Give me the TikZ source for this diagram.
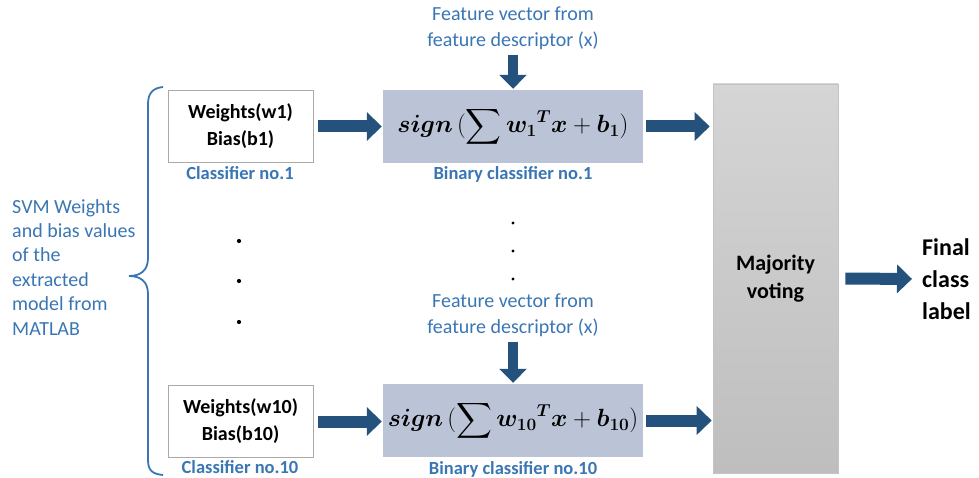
\documentclass[tikz,border=0pt]{standalone}
\usepackage[no-math]{fontspec}
\setmainfont{Carlito}
\usepackage{amsmath,bm}
\usetikzlibrary{arrows.meta}
\definecolor{txtblue}{RGB}{58,118,180}
\definecolor{arrblue}{RGB}{36,82,125}
\definecolor{boxblue}{RGB}{187,196,215}
\definecolor{boxline}{RGB}{170,170,170}
\begin{document}
\begin{tikzpicture}[x=1pt,y=-1pt,
  fat/.style={draw=arrblue, line width=12pt, -{Triangle[width=28pt,length=15pt]}},
  fatv/.style={draw=arrblue, line width=10pt, -{Triangle[width=27pt,length=14pt]}},
  wbox/.style={draw=boxline, line width=0.8pt, fill=white, minimum width=145pt, minimum height=72pt, align=center, font=\fontsize{20}{27}\selectfont\bfseries, inner sep=0pt},
  bbox/.style={fill=boxblue, minimum width=260pt, minimum height=73pt, inner sep=0pt, font=\fontsize{24}{28}\selectfont},
  lbl/.style={text=txtblue, font=\fontsize{18.5}{20}\selectfont\bfseries, inner sep=0pt},
  feat/.style={text=txtblue, font=\fontsize{20}{26}\selectfont, align=center, inner sep=0pt},
  bigdot/.style={circle, fill=black, inner sep=0pt, minimum size=4.2pt},
  smalldot/.style={circle, fill=black, inner sep=0pt, minimum size=3.2pt}
]
\useasboundingbox (0,0) rectangle (979,478);

% left text
\node[text=txtblue, font=\fontsize{20}{24.4}\selectfont, align=left, anchor=north west, inner sep=0pt] (svm) at (12,199)
  {SVM Weights\\and bias values\\of the\\extracted\\model from\\MATLAB};

% brace
\draw[txtblue, line width=1.8pt]
  (163,87) .. controls (153,88) and (148,93) .. (148,104) -- (148,258)
  .. controls (148,270) and (141,276) .. (129,276)
  .. controls (141,276) and (148,282) .. (148,294) -- (148,460)
  .. controls (148,471) and (153,474) .. (163,475);

% weight boxes
\node[wbox] (w1) at (240.5,126.5) {Weights(w1)\\Bias(b1)};
\node[wbox] (w10) at (240.5,421.5) {Weights(w10)\\Bias(b10)};
\node[lbl] (c1) at (240,173) {Classifier no.1};
\node[lbl] (c10) at (240,467) {Classifier no.10};

% left dots
\node[bigdot] (ld1) at (239,241) {};
\node[bigdot] (ld2) at (239,281) {};
\node[bigdot] (ld3) at (239,322) {};

% binary classifier boxes
\node[bbox] (b1) at (513,126.5) {$\bm{sign}\,(\displaystyle\sum {\bm{w_1}}^{\bm{T}}\bm{x}+\bm{b_1})$};
\node[bbox] (b10) at (513,420.5) {$\bm{sign}\,(\displaystyle\sum {\bm{w_{10}}}^{\bm{T}}\bm{x}+\bm{b_{10}})$};
\node[lbl] (bl1) at (513,174) {Binary classifier no.1};
\node[lbl] (bl10) at (513,469) {Binary classifier no.10};

% feature vectors
\node[feat] (f1) at (513,28) {Feature vector from\\feature descriptor (x)};
\node[feat] (f10) at (513,315) {Feature vector from\\feature descriptor (x)};

% middle dots
\node[smalldot] (md1) at (513,223) {};
\node[smalldot] (md2) at (513,251) {};
\node[smalldot] (md3) at (513,279) {};

% majority voting
\node[draw=boxline!70, line width=0.6pt, top color={rgb,255:red,213;green,213;blue,213}, bottom color={rgb,255:red,190;green,190;blue,190},
  minimum width=125pt, minimum height=389pt, inner sep=0pt, align=center,
  font=\fontsize{22}{28}\selectfont\bfseries] (mv) at (775.5,278.5) {Majority\\voting};

% final label
\node[font=\fontsize{24}{32}\selectfont\bfseries, align=left, anchor=west, inner sep=0pt] (fin) at (922,279) {Final\\class\\label};

% arrows
\draw[fat, shorten <=5pt, shorten >=1pt] (w1.east) -- (b1.west);
\draw[fat, shorten <=5pt, shorten >=1pt] (w10.east) -- (w10.east -| b10.west);
\draw[fat, shorten <=3pt, shorten >=3pt] (b1.east) -- (b1.east -| mv.west);
\draw[fat, shorten <=3pt, shorten >=1pt] (b10.east) -- (b10.east -| mv.west);
\draw[fat, shorten <=7pt, shorten >=10pt] (mv.east) -- (fin.west);
\draw[fatv, shorten <=5pt, shorten >=1pt] (f1.south) -- (b1.north);
\draw[fatv, shorten <=5pt, shorten >=1pt] (f10.south) -- (b10.north);
\end{tikzpicture}
\end{document}
